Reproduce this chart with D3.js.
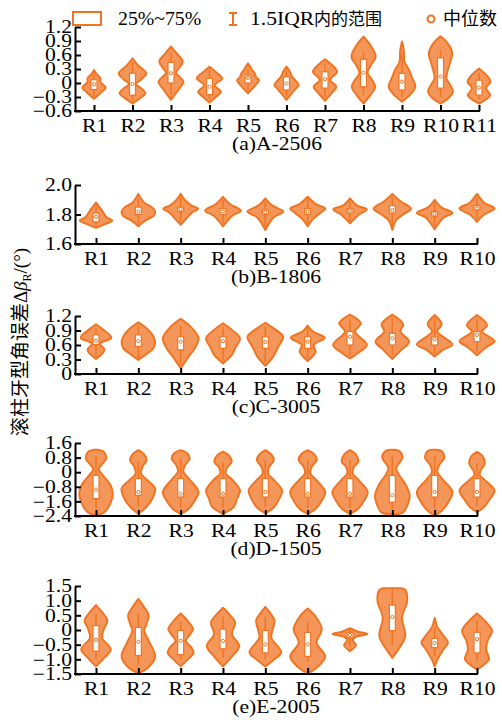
<!DOCTYPE html>
<html lang="zh">
<head>
<meta charset="utf-8">
<title>滚柱牙型角误差</title>
<script src="https://cdnjs.cloudflare.com/ajax/libs/d3/7.8.5/d3.min.js"></script>
<style>
body { margin: 0; background: #fff; }
</style>
</head>
<body>
<script>
// ---- data ----
var panelTitles = ["(a)A-2506", "(b)B-1806", "(c)C-3005", "(d)D-1505", "(e)E-2005"];
var catsA = ["R1","R2","R3","R4","R5","R6","R7","R8","R9","R10","R11"];
var cats = ["R1","R2","R3","R4","R5","R6","R7","R8","R9","R10"];

var yTicksA = [-0.6, -0.3, 0, 0.3, 0.6, 0.9, 1.2];
var yTicksB = [1.6, 1.8, 2.0];
var yTicksC = [0, 0.3, 0.6, 0.9, 1.2];
var yTicksD = [-2.4, -1.6, -0.8, 0, 0.8, 1.6];
var yTicksE = [-1.5, -1.0, -0.5, 0, 0.5, 1.0, 1.5];

// violin outlines: [value, relative density]
var densA = [
  [[0.28,0],[0.2,0.12],[0.1,0.36],[0.02,0.36],[-0.1,0.65],[-0.2,0.4],[-0.34,0]],
  [[0.53,0],[0.38,0.3],[0.21,0.76],[0.08,0.5],[-0.02,0.2],[-0.12,0.5],[-0.22,0.72],[-0.33,0.4],[-0.44,0]],
  [[0.78,0],[0.62,0.35],[0.46,0.65],[0.32,0.45],[0.22,0.28],[0.12,0.5],[0.03,0.69],[-0.15,0.4],[-0.36,0]],
  [[0.35,0],[0.22,0.4],[0.1,0.7],[0.0,0.4],[-0.05,0.28],[-0.19,0.63],[-0.3,0.35],[-0.42,0]],
  [[0.42,0],[0.3,0.2],[0.2,0.38],[0.12,0.45],[0.06,0.61],[-0.05,0.4],[-0.22,0]],
  [[0.35,0],[0.25,0.18],[0.14,0.3],[0.05,0.5],[-0.04,0.67],[-0.15,0.45],[-0.36,0]],
  [[0.51,0],[0.38,0.4],[0.24,0.67],[0.12,0.38],[0.06,0.28],[-0.08,0.63],[-0.2,0.4],[-0.38,0]],
  [[0.99,0],[0.8,0.4],[0.56,0.67],[0.38,0.4],[0.22,0.22],[0.08,0.45],[-0.08,0.65],[-0.25,0.4],[-0.44,0]],
  [[0.89,0],[0.7,0.1],[0.45,0.14],[0.28,0.39],[0.12,0.55],[-0.08,0.74],[-0.25,0.45],[-0.4,0]],
  [[1.0,0],[0.85,0.4],[0.64,0.65],[0.4,0.5],[0.1,0.33],[-0.05,0.55],[-0.19,0.69],[-0.32,0.45],[-0.44,0]],
  [[0.31,0],[0.15,0.45],[0.03,0.64],[-0.11,0.39],[-0.26,0.62],[-0.35,0.4],[-0.44,0]]
];
var densB = [
  [[1.88,0],[1.82,0.37],[1.78,0.6],[1.76,0.9],[1.74,0.6],[1.71,0]],
  [[1.94,0],[1.88,0.33],[1.85,0.75],[1.82,0.93],[1.79,0.85],[1.76,0.4],[1.72,0]],
  [[1.94,0],[1.9,0.22],[1.86,0.6],[1.84,0.97],[1.81,0.6],[1.77,0.3],[1.73,0]],
  [[1.92,0],[1.87,0.4],[1.826,0.99],[1.79,0.5],[1.72,0]],
  [[1.91,0],[1.86,0.4],[1.82,1.0],[1.78,0.45],[1.695,0]],
  [[1.92,0],[1.87,0.45],[1.84,0.97],[1.81,0.7],[1.77,0.3],[1.72,0]],
  [[1.91,0],[1.86,0.4],[1.835,0.93],[1.8,0.5],[1.74,0]],
  [[1.94,0],[1.89,0.45],[1.84,1.04],[1.8,0.6],[1.76,0.2],[1.695,0]],
  [[1.9,0],[1.85,0.35],[1.81,0.99],[1.78,0.5],[1.70,0]],
  [[1.94,0],[1.88,0.4],[1.84,0.97],[1.8,0.4],[1.75,0]]
];
var densC = [
  [[1.03,0],[0.95,0.28],[0.75,0.85],[0.63,0.22],[0.5,0.47],[0.31,0]],
  [[1.07,0],[0.95,0.44],[0.81,0.78],[0.67,0.93],[0.53,0.83],[0.4,0.4],[0.29,0]],
  [[1.14,0],[0.98,0.55],[0.74,0.99],[0.53,0.78],[0.36,0.44],[0.12,0]],
  [[1.05,0],[0.91,0.5],[0.74,0.94],[0.53,0.67],[0.4,0.5],[0.22,0]],
  [[1.06,0],[0.95,0.44],[0.77,0.99],[0.57,0.72],[0.36,0.44],[0.17,0]],
  [[1.0,0],[0.88,0.28],[0.75,0.94],[0.6,0.33],[0.46,0.44],[0.27,0]],
  [[1.23,0],[1.05,0.6],[0.88,0.28],[0.6,0.94],[0.45,0.5],[0.32,0]],
  [[1.23,0],[1.03,0.6],[0.88,0.45],[0.67,0.93],[0.5,0.5],[0.31,0]],
  [[1.22,0],[1.03,0.39],[0.88,0.14],[0.61,0.99],[0.5,0.45],[0.36,0]],
  [[1.22,0],[1.01,0.56],[0.88,0.28],[0.68,0.97],[0.55,0.5],[0.39,0]]
];
var densD = [
  [[1.23,0.1],[1.1,0.45],[0.75,0.56],[0.4,0.3],[0.17,0.15],[-0.2,0.4],[-0.7,0.8],[-1.18,0.93],[-1.8,0.75],[-2.2,0.45],[-2.33,0.15]],
  [[1.21,0],[1.0,0.3],[0.66,0.46],[0.35,0.25],[-0.07,0.15],[-0.4,0.45],[-0.9,0.93],[-1.4,0.8],[-1.9,0.45],[-2.28,0]],
  [[1.21,0],[1.05,0.35],[0.75,0.5],[0.35,0.22],[0.02,0.15],[-0.35,0.45],[-1.08,0.99],[-1.6,0.75],[-2.0,0.45],[-2.28,0]],
  [[1.12,0],[0.95,0.3],[0.57,0.48],[0.25,0.22],[-0.07,0.15],[-0.4,0.5],[-1.0,0.94],[-1.45,0.78],[-1.9,0.6],[-2.28,0]],
  [[1.21,0],[1.0,0.3],[0.66,0.47],[0.3,0.22],[-0.07,0.15],[-0.4,0.45],[-1.0,0.93],[-1.5,0.75],[-1.95,0.45],[-2.25,0]],
  [[1.21,0],[1.0,0.35],[0.66,0.5],[0.3,0.22],[-0.07,0.15],[-0.4,0.45],[-1.08,0.97],[-1.6,0.75],[-2.0,0.45],[-2.28,0]],
  [[1.21,0],[1.0,0.3],[0.57,0.46],[0.3,0.22],[-0.07,0.15],[-0.4,0.45],[-1.08,0.98],[-1.6,0.75],[-2.0,0.45],[-2.28,0]],
  [[1.23,0.1],[1.15,0.4],[0.8,0.56],[0.4,0.3],[0.2,0.22],[-0.2,0.4],[-0.7,0.75],[-1.27,0.96],[-1.9,0.8],[-2.2,0.6],[-2.3,0.2]],
  [[1.23,0.1],[1.15,0.4],[0.78,0.53],[0.4,0.25],[0.02,0.15],[-0.4,0.45],[-1.08,0.99],[-1.6,0.78],[-2.05,0.45],[-2.33,0.1]],
  [[1.12,0],[0.9,0.3],[0.48,0.43],[0.1,0.2],[-0.17,0.15],[-0.45,0.45],[-1.0,0.97],[-1.5,0.7],[-1.9,0.4],[-2.19,0]]
];
var densE = [
  [[0.85,0],[0.6,0.35],[0.33,0.63],[0.05,0.45],[-0.26,0.33],[-0.66,0.82],[-0.95,0.45],[-1.24,0]],
  [[1.06,0],[0.8,0.3],[0.5,0.57],[0.2,0.45],[-0.02,0.33],[-0.4,0.6],[-0.9,0.93],[-1.25,0.6],[-1.45,0.1]],
  [[0.56,0],[0.3,0.4],[0.03,0.69],[-0.2,0.45],[-0.37,0.28],[-0.6,0.6],[-0.78,0.72],[-1.0,0.4],[-1.24,0]],
  [[0.76,0],[0.5,0.4],[0.27,0.67],[-0.14,0.5],[-0.55,0.9],[-0.9,0.5],[-1.24,0]],
  [[0.79,0],[0.55,0.3],[0.33,0.51],[0.0,0.4],[-0.26,0.33],[-0.76,0.88],[-1.0,0.5],[-1.24,0]],
  [[0.73,0],[0.45,0.45],[0.03,0.78],[-0.43,0.5],[-0.9,0.97],[-1.2,0.65],[-1.42,0.2]],
  [[0.06,0],[-0.06,0.45],[-0.14,0.97],[-0.24,0.3],[-0.34,0.15],[-0.52,0.33],[-0.72,0]],
  [[1.42,0.5],[1.36,0.72],[0.97,0.82],[0.6,0.6],[0.38,0.53],[-0.2,0.72],[-0.6,0.4],[-0.95,0]],
  [[0.41,0],[0.1,0.15],[-0.2,0.5],[-0.43,0.74],[-0.65,0.5],[-0.95,0.2],[-1.24,0]],
  [[0.56,0],[0.3,0.45],[-0.02,0.83],[-0.35,0.6],[-0.66,0.5],[-0.99,0.67],[-1.2,0.35],[-1.34,0]]
];

// box stats per category: q1, q3, median, whisker low, whisker high
var q1A = [-0.14,-0.26,0.0,-0.25,0.0,-0.15,-0.11,-0.08,-0.15,-0.11,-0.26];
var q3A = [0.07,0.21,0.44,0.1,0.17,0.13,0.24,0.51,0.21,0.54,0.06];
var medA = [-0.03,-0.02,0.21,-0.08,0.11,-0.01,0.08,0.22,0.03,0.14,-0.1];
var loA = [-0.3,-0.4,-0.26,-0.35,-0.15,-0.28,-0.3,-0.26,-0.3,-0.3,-0.35];
var hiA = [0.2,0.45,0.66,0.28,0.32,0.27,0.42,0.67,0.6,0.7,0.22];

var q1B = [1.75,1.80,1.82,1.80,1.80,1.80,1.81,1.81,1.79,1.83];
var q3B = [1.81,1.85,1.85,1.84,1.83,1.84,1.84,1.86,1.82,1.86];
var medB = [1.785,1.82,1.837,1.82,1.815,1.82,1.828,1.83,1.805,1.842];
var loB = [1.72,1.74,1.75,1.74,1.71,1.74,1.75,1.71,1.72,1.76];
var hiB = [1.86,1.91,1.92,1.9,1.89,1.9,1.89,1.92,1.88,1.92];

var q1C = [0.61,0.57,0.5,0.53,0.53,0.53,0.6,0.6,0.6,0.67];
var q3C = [0.81,0.81,0.77,0.77,0.77,0.77,0.88,0.84,0.77,0.88];
var medC = [0.69,0.68,0.67,0.68,0.66,0.67,0.77,0.74,0.72,0.81];
var loC = [0.35,0.32,0.2,0.28,0.25,0.32,0.38,0.38,0.42,0.45];
var hiC = [0.95,1.0,1.0,0.98,0.98,0.95,1.15,1.15,1.15,1.15];

var q1D = [-1.45,-1.27,-1.36,-1.36,-1.36,-1.36,-1.36,-1.64,-1.36,-1.36];
var q3D = [-0.17,-0.35,-0.35,-0.35,-0.35,-0.35,-0.35,-0.17,-0.17,-0.35];
var medD = [-0.95,-1.08,-1.18,-1.18,-1.08,-1.18,-1.18,-1.27,-1.08,-1.08];
var loD = [-2.0,-1.9,-1.95,-1.95,-1.9,-1.95,-1.95,-2.0,-1.95,-1.85];
var hiD = [0.9,0.6,0.75,0.55,0.65,0.65,0.65,0.9,0.9,0.5];

var q1E = [-0.72,-0.87,-0.84,-0.64,-0.78,-0.9,-0.26,-0.02,-0.6,-0.78];
var q3E = [0.15,0.09,-0.02,0.03,-0.02,-0.08,-0.08,0.85,-0.29,-0.08];
var medE = [-0.34,-0.4,-0.37,-0.37,-0.49,-0.49,-0.17,0.44,-0.45,-0.31];
var loE = [-1.0,-1.2,-1.0,-0.95,-1.0,-1.1,-0.6,-0.5,-0.9,-1.1];
var hiE = [0.55,0.55,0.3,0.45,0.45,0.3,0.02,1.4,0.1,0.35];

// ---- drawing ----
var w = 502, h = 720;
var orange = "#f07522";
var fillCol = "#f4965a";
var latin = "'Liberation Serif', 'Noto Sans CJK SC', serif";
var cjk = "'Noto Sans CJK SC', sans-serif";
var stretch = 1.2;
var axisLeftX = 75;

var panels = [
  {cats: catsA, ticks: yTicksA, dens: densA, q1: q1A, q3: q3A, med: medA, lo: loA, hi: hiA, top: 27, bottom: 111, x0: 94, x1: 479},
  {cats: cats, ticks: yTicksB, dens: densB, q1: q1B, q3: q3B, med: medB, lo: loB, hi: hiB, top: 185, bottom: 244, x0: 96, x1: 477},
  {cats: cats, ticks: yTicksC, dens: densC, q1: q1C, q3: q3C, med: medC, lo: loC, hi: hiC, top: 316, bottom: 374, x0: 96, x1: 477},
  {cats: cats, ticks: yTicksD, dens: densD, q1: q1D, q3: q3D, med: medD, lo: loD, hi: hiD, top: 443, bottom: 516, x0: 96, x1: 477},
  {cats: cats, ticks: yTicksE, dens: densE, q1: q1E, q3: q3E, med: medE, lo: loE, hi: hiE, top: 586, bottom: 674, x0: 96, x1: 477}
];

var svg = d3.select("body")
            .append("svg")
            .attr("width", w)
            .attr("height", h);

var widthScale = d3.scaleLinear().domain([0, 1]).range([0, 18]);
var tickFmt = function(d) { return d === 0 ? "0" : d3.format(".1f")(d); };

panels.forEach(function(p, pi) {
    var x = d3.scalePoint().domain(p.cats).range([p.x0, p.x1]);
    var y = d3.scaleLinear().domain(d3.extent(p.ticks)).range([p.bottom, p.top]);
    var g = svg.append("g");

    // violins
    p.dens.forEach(function(prof, i) {
        var cx = x(p.cats[i]);
        var area = d3.area()
            .curve(d3.curveCatmullRom.alpha(0.5))
            .y(function(d) { return y(d[0]); })
            .x0(function(d) { return cx - widthScale(d[1]); })
            .x1(function(d) { return cx + widthScale(d[1]); });
        g.append("path")
            .attr("d", area(prof))
            .attr("fill", fillCol)
            .attr("stroke", orange)
            .attr("stroke-width", 2)
            .attr("stroke-linejoin", "round");
        // whisker
        g.append("line")
            .attr("x1", cx).attr("x2", cx)
            .attr("y1", y(p.lo[i])).attr("y2", y(p.hi[i]))
            .attr("stroke", orange)
            .attr("stroke-width", 1.5);
        // box
        g.append("rect")
            .attr("x", cx - 3)
            .attr("y", y(p.q3[i]))
            .attr("width", 6)
            .attr("height", y(p.q1[i]) - y(p.q3[i]))
            .attr("fill", "white")
            .attr("stroke", orange)
            .attr("stroke-width", 1.2);
        g.append("circle")
            .attr("cx", cx)
            .attr("cy", y(p.med[i]))
            .attr("r", 1.6)
            .attr("fill", "white")
            .attr("stroke", orange)
            .attr("stroke-width", 1);
    });

    // y axis
    var ya = g.append("g")
        .attr("transform", "translate(" + axisLeftX + ",0)")
        .call(d3.axisLeft(y).tickValues(p.ticks).tickSizeInner(-6).tickSizeOuter(0).tickPadding(2.5).tickFormat(tickFmt));
    ya.attr("font-family", latin).attr("font-size", 18);
    ya.select(".domain").attr("stroke", "#000").attr("stroke-width", 2);
    ya.selectAll(".tick line").attr("stroke", "#000").attr("stroke-width", 2);
    ya.selectAll(".tick text").attr("fill", "#000").attr("transform", "scale(" + stretch + ",1)");

    // x axis
    var xa = g.append("g")
        .attr("transform", "translate(0," + p.bottom + ")")
        .call(d3.axisBottom(x).tickSizeInner(-6).tickSizeOuter(0).tickPadding(8));
    xa.attr("font-family", latin).attr("font-size", 18);
    xa.select(".domain").remove();
    xa.selectAll(".tick line").attr("stroke", "#000").attr("stroke-width", 2);
    xa.selectAll(".tick text").attr("fill", "#000").attr("transform", "scale(" + stretch + ",1)");
    xa.append("line")
        .attr("x1", axisLeftX - 1).attr("x2", p.x1 + 1)
        .attr("y1", 0).attr("y2", 0)
        .attr("stroke", "#000")
        .attr("stroke-width", 2);

    // panel title
    g.append("text")
        .attr("transform", "translate(" + ((axisLeftX + p.x1) / 2) + "," + (p.bottom + 39) + ") scale(" + stretch + ",1)")
        .attr("text-anchor", "middle")
        .attr("font-family", latin)
        .attr("font-size", 18)
        .text(panelTitles[pi]);
});

// y label
var yl = svg.append("text")
    .attr("transform", "translate(27,342) rotate(-90)")
    .attr("text-anchor", "middle")
    .attr("font-family", latin)
    .attr("font-size", 19);
yl.append("tspan").attr("font-family", cjk).text("滚柱牙型角误差");
yl.append("tspan").text("Δ");
yl.append("tspan").attr("font-style", "italic").text("β");
yl.append("tspan").attr("font-size", 12).attr("dy", 4).text("R");
yl.append("tspan").attr("dy", -4).text("/(°)");

// legend
var lg = svg.append("g");
lg.append("rect")
    .attr("x", 73).attr("y", 12).attr("width", 28).attr("height", 13)
    .attr("fill", "none").attr("stroke", orange).attr("stroke-width", 2);
lg.append("text")
    .attr("transform", "translate(118,25) scale(1.1,1)")
    .attr("font-family", latin).attr("font-size", 18)
    .text("25%~75%");
lg.append("path")
    .attr("d", "M229,13H237M233,13V25M229,25H237")
    .attr("fill", "none").attr("stroke", orange).attr("stroke-width", 2);
lg.append("text")
    .attr("transform", "translate(250,25) scale(1.2,1)")
    .attr("font-family", latin).attr("font-size", 18)
    .text("1.5IQR");
lg.append("text")
    .attr("x", 314).attr("y", 25)
    .attr("font-family", cjk).attr("font-size", 17)
    .text("内的范围");
lg.append("circle")
    .attr("cx", 431).attr("cy", 19).attr("r", 3.5)
    .attr("fill", "white").attr("stroke", orange).attr("stroke-width", 2);
lg.append("text")
    .attr("x", 443).attr("y", 25)
    .attr("font-family", cjk).attr("font-size", 18)
    .text("中位数")
</script>
</body>
</html>
